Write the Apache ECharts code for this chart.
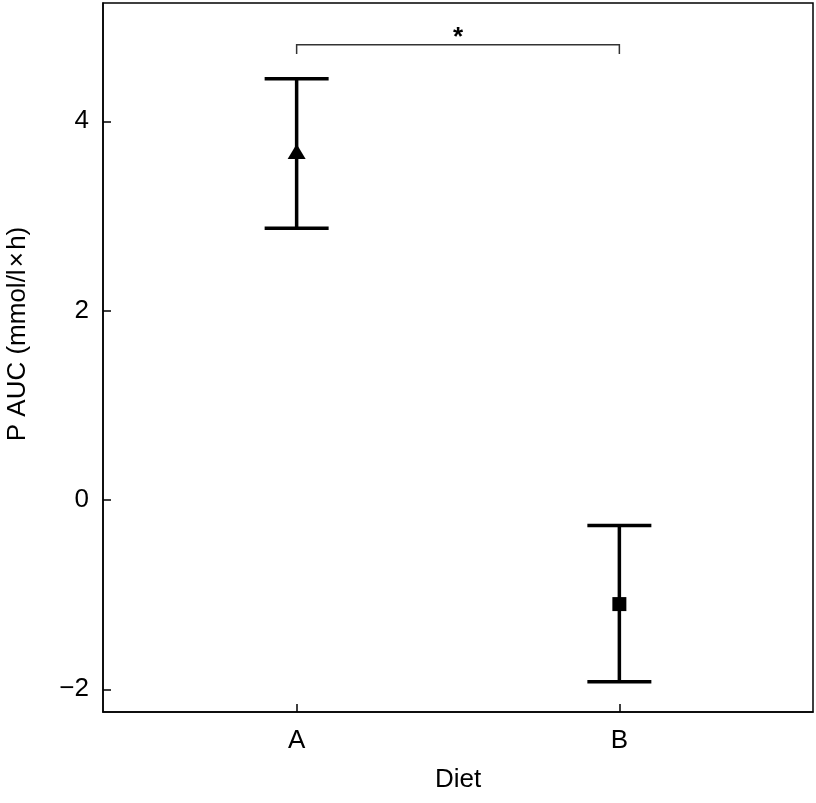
<!DOCTYPE html>
<html>
<head>
<meta charset="utf-8">
<script src="https://cdn.jsdelivr.net/npm/echarts@6/dist/echarts.min.js"></script>
<style>html,body{margin:0;padding:0;background:#fff}#c{width:816px;height:803px}</style>
</head>
<body>
<div id="c"></div>
<script>
var categories = ['A', 'B'];
var xPositions = [1, 2];
var means = [3.68, -1.10];
var lowers = [2.87, -1.92];
var uppers = [4.45, -0.27];
var symbols = ['triangle', 'rect'];
var yTicks = [-2, 0, 2, 4];
var bracketFrom = 1, bracketTo = 2, bracketTop = 4.81, bracketFoot = 4.71;
var bracketLabel = '*';
var yTitle = 'P AUC (mmol/l\u200a×\u200ah)';
var xTitle = 'Diet';

var FONT = '"Liberation Sans", Arial, Helvetica, sans-serif';
var chart = echarts.init(document.getElementById('c'));

var errData = xPositions.map(function (x, i) { return [x, lowers[i], uppers[i]]; });
var ptData = xPositions.map(function (x, i) {
  return { value: [x, means[i]], symbol: symbols[i], symbolSize: symbols[i] === 'triangle' ? [18, 15] : [14, 14] };
});

chart.setOption({
  animation: false,
  grid: { left: 103, right: 3, top: 3, bottom: 91, show: true, borderColor: '#000', borderWidth: 1.5 },
  graphic: [{
    type: 'text', x: 18, y: 334, rotation: Math.PI / 2,
    style: { text: yTitle, fontFamily: FONT, fontSize: 26, fill: '#000', align: 'center', verticalAlign: 'middle' }
  }],
  xAxis: {
    type: 'value', min: 0.4, max: 2.6,
    name: xTitle, nameLocation: 'middle', nameGap: 55,
    nameTextStyle: { fontFamily: FONT, fontSize: 26, color: '#000' },
    splitLine: { show: false },
    axisLine: { show: true, onZero: false, lineStyle: { color: '#000', width: 1.5 } },
    axisTick: { show: true, inside: true, length: 8, customValues: xPositions, lineStyle: { color: '#000', width: 1.5 } },
    axisLabel: {
      customValues: xPositions, margin: 16, fontFamily: FONT, fontSize: 26, color: '#000',
      formatter: function (v) { var i = xPositions.indexOf(v); return i >= 0 ? categories[i] : ''; }
    }
  },
  yAxis: {
    type: 'value', min: -2.24, max: 5.25,
    splitLine: { show: false },
    axisLine: { show: true, onZero: false, lineStyle: { color: '#000', width: 1.5 } },
    axisTick: { show: true, inside: true, length: 8, customValues: yTicks, lineStyle: { color: '#000', width: 1.5 } },
    axisLabel: {
      customValues: yTicks, margin: 14, fontFamily: FONT, fontSize: 26, color: '#000',
      formatter: function (v) { return String(v).replace('-', '\u2212'); }
    }
  },
  series: [
    {
      type: 'custom',
      data: errData,
      renderItem: function (params, api) {
        var x = api.value(0);
        var lo = api.coord([x, api.value(1)]);
        var hi = api.coord([x, api.value(2)]);
        var hw = 32;
        var st = { stroke: '#000', lineWidth: 3.5 };
        return {
          type: 'group',
          children: [
            { type: 'line', shape: { x1: lo[0], y1: lo[1], x2: hi[0], y2: hi[1] }, style: st },
            { type: 'line', shape: { x1: lo[0] - hw, y1: lo[1], x2: lo[0] + hw, y2: lo[1] }, style: st },
            { type: 'line', shape: { x1: hi[0] - hw, y1: hi[1], x2: hi[0] + hw, y2: hi[1] }, style: st }
          ]
        };
      },
      z: 2
    },
    {
      type: 'scatter',
      data: ptData,
      itemStyle: { color: '#000', opacity: 1 },
      z: 3
    },
    {
      type: 'custom',
      data: [[bracketFrom, bracketTo, bracketTop, bracketFoot]],
      renderItem: function (params, api) {
        var a = api.coord([api.value(0), api.value(2)]);
        var b = api.coord([api.value(1), api.value(2)]);
        var af = api.coord([api.value(0), api.value(3)]);
        var st = { stroke: '#333', lineWidth: 1.5, fill: null };
        return {
          type: 'group',
          children: [
            { type: 'polyline', shape: { points: [[a[0], af[1]], [a[0], a[1]], [b[0], b[1]], [b[0], af[1]]] }, style: st },
            { type: 'text', x: (a[0] + b[0]) / 2, y: a[1] + 6,
              style: { text: bracketLabel, fontFamily: FONT, fontSize: 26, fontWeight: 'bold', fill: '#000', align: 'center', verticalAlign: 'bottom' } }
          ]
        };
      }
    }
  ]
});
</script>
</body>
</html>
